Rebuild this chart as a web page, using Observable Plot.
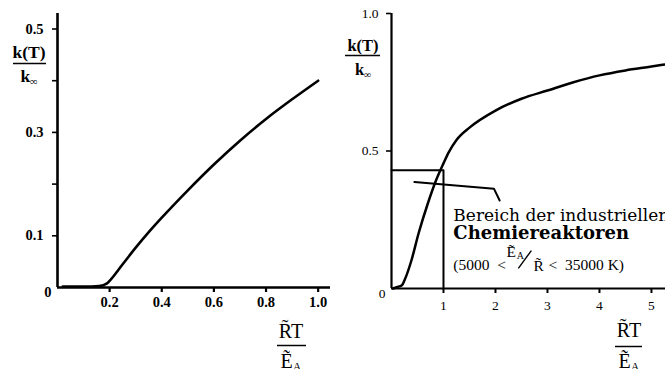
<!DOCTYPE html>
<html><head><meta charset="utf-8">
<script src="https://cdn.jsdelivr.net/npm/d3@7"></script>
<script src="https://cdn.jsdelivr.net/npm/@observablehq/plot@0.6"></script>
<style>
html,body{margin:0;padding:0;background:#fff;}
#wrap{position:relative;width:665px;height:369px;overflow:hidden;background:#fff;}
#left{position:absolute;left:0;top:0;}
#right{position:absolute;left:330px;top:0;}
svg{overflow:visible;}
</style></head><body><div id="wrap"><div id="left"></div><div id="right"></div></div>
<script>
// ---------- data ----------
// left panel: k(T)/k_inf vs RT/E_A  (0 .. 1)
const leftX = [0.02, 0.1, 0.16, 0.19, 0.2, 0.25, 0.3, 0.35, 0.4, 0.5, 0.6, 0.7, 0.8, 0.9, 1.0];
const leftY = [0.002, 0.002, 0.003, 0.008, 0.013, 0.045, 0.077, 0.107, 0.135, 0.188, 0.238, 0.284, 0.326, 0.364, 0.40];
const leftXTicks = [0.2, 0.4, 0.6, 0.8, 1.0];
const leftXTickLabels = ["0.2", "0.4", "0.6", "0.8", "1.0"];
const leftYTicks = [0.1, 0.2, 0.3, 0.4, 0.5];
const leftYTickLabels = ["0.1", "", "0.3", "", "0.5"];

// right panel: k(T)/k_inf vs RT/E_A  (0 .. 5)
const rightX = [0.03, 0.1, 0.2, 0.25, 0.38, 0.52, 0.7, 0.85, 1.0, 1.1, 1.25, 1.5, 2, 2.5, 3, 3.5, 4, 4.5, 5, 5.27];
const rightY = [0, 0.005, 0.012, 0.03, 0.1, 0.2, 0.31, 0.39, 0.455, 0.495, 0.54, 0.585, 0.647, 0.69, 0.72, 0.75, 0.775, 0.793, 0.807, 0.815];
const rightXTicks = [1, 2, 3, 4, 5];
const rightXTickLabels = ["1", "2", "3", "4", "5"];
const rightYTicks = [0.5, 1.0];
const rightYTickLabels = ["0.5", "1.0"];

// industrial reactor range box and pointer
const boxX = [0, 1, 1];
const boxY = [0.43, 0.43, 0];
const pointerX = [0.44, 1.97, 2.08];
const pointerY = [0.387, 0.363, 0.32];
const noteLines = ["Bereich der industriellen", "Chemiereaktoren"];
const noteLineY = [0.247, 0.18];
const noteX = 1.19;
const rangeLow = "(5000  <";
const rangeHigh = "<  35000 K)";

// ---------- helpers ----------
const serif = "'Liberation Serif', 'Times New Roman', serif";
const wide = "'DejaVu Serif', serif";
const pts = (xs, ys) => xs.map((x, i) => ({x, y: ys[i]}));
const lmap = (t, l) => new Map(t.map((d, i) => [d, l[i]]));

// ---------- left plot ----------
const lxm = lmap(leftXTicks, leftXTickLabels);
const lym = lmap(leftYTicks, leftYTickLabels);
const left = Plot.plot({
  width: 340, height: 369,
  marginLeft: 57, marginRight: 8, marginTop: 13, marginBottom: 82,
  x: {domain: [0, 1.055]},
  y: {domain: [0, 0.53]},
  style: {fontFamily: serif, fontSize: "14.5px", fontWeight: "bold", color: "black", background: "white"},
  marks: [
    Plot.axisX(leftXTicks, {tickSize: 5, tickPadding: 4, strokeWidth: 2.2, tickFormat: d => lxm.get(d), label: null}),
    Plot.axisY(leftYTicks, {tickSize: 5, tickPadding: 9, strokeWidth: 1.6, tickFormat: d => lym.get(d), label: null}),
    Plot.text([{x: 0, y: 0, t: "0"}], {x: "x", y: "y", text: "t", dx: -6, dy: 5, textAnchor: "end"}),
    Plot.ruleX([0], {y1: 0, y2: 0.53, strokeWidth: 2.6}),
    Plot.ruleY([0], {x1: 0, x2: 1.055, strokeWidth: 2.6}),
    Plot.line(pts(leftX, leftY), {x: "x", y: "y", strokeWidth: 2.6, curve: "monotone-x"})
  ]
});
document.getElementById("left").appendChild(left);

// ---------- right plot ----------
const rxm = lmap(rightXTicks, rightXTickLabels);
const rym = lmap(rightYTicks, rightYTickLabels);
const right = Plot.plot({
  width: 335, height: 369,
  marginLeft: 61, marginRight: 0, marginTop: 13, marginBottom: 81,
  x: {domain: [0, 5.27]},
  y: {domain: [0, 1]},
  style: {fontFamily: serif, fontSize: "13.5px", color: "black", background: "white"},
  marks: [
    Plot.axisX(rightXTicks, {tickSize: 5, tickPadding: 7, strokeWidth: 2, tickFormat: d => rxm.get(d), label: null}),
    Plot.axisY(rightYTicks, {tickSize: 5, tickPadding: 8, strokeWidth: 1.6, tickFormat: d => rym.get(d), label: null}),
    Plot.text([{x: 0, y: 0, t: "0"}], {x: "x", y: "y", text: "t", dx: -6, dy: 5, textAnchor: "end"}),
    Plot.ruleX([0], {y1: 0, y2: 1, strokeWidth: 2.2}),
    Plot.ruleY([0], {x1: 0, x2: 5.27, strokeWidth: 2.2}),
    Plot.line(pts(boxX, boxY), {x: "x", y: "y", strokeWidth: 2}),
    Plot.line(pts(pointerX, pointerY), {x: "x", y: "y", strokeWidth: 2}),
    Plot.line(pts(rightX, rightY), {x: "x", y: "y", strokeWidth: 2.5, curve: "monotone-x"}),
    Plot.text([noteLines[0]], {x: noteX, y: noteLineY[0], textAnchor: "start", lineAnchor: "bottom", fontFamily: wide, fontSize: 17}),
    Plot.text([noteLines[1]], {x: noteX, y: noteLineY[1], textAnchor: "start", lineAnchor: "bottom", fontFamily: wide, fontSize: 18, fontWeight: "bold"}),
    // range formula
    Plot.text([rangeLow], {x: noteX, y: 0.069, textAnchor: "start", lineAnchor: "bottom", fontSize: 15.5}),
    Plot.text(["\u1EBC"], {x: 2.21, y: 0.113, textAnchor: "start", lineAnchor: "bottom", fontSize: 15.5}),
    Plot.text(["A"], {x: 2.41, y: 0.108, textAnchor: "start", lineAnchor: "bottom", fontSize: 10}),
    Plot.link([{x1: 2.44, y1: 0.073, x2: 2.69, y2: 0.138}], {x1: "x1", y1: "y1", x2: "x2", y2: "y2", strokeWidth: 1.4}),
    Plot.text(["R\u0303"], {x: 2.73, y: 0.062, textAnchor: "start", lineAnchor: "bottom", fontSize: 15.5}),
    Plot.text([rangeHigh], {x: 3.02, y: 0.069, textAnchor: "start", lineAnchor: "bottom", fontSize: 15.5})
  ]
});
document.getElementById("right").appendChild(right);

// ---------- fraction axis labels ----------
function frac(svg, o) {
  const g = d3.select(svg).append("g").attr("fill", "black").attr("font-family", serif);
  g.append("text").attr("x", o.cx).attr("y", o.topBase).attr("text-anchor", "middle")
    .attr("font-size", o.size).attr("font-weight", o.weight).text(o.top);
  g.append("line").attr("x1", o.lx1).attr("x2", o.lx2).attr("y1", o.ly).attr("y2", o.ly)
    .attr("stroke", "black").attr("stroke-width", 1.5);
  const b = g.append("text").attr("x", o.cx).attr("y", o.botBase).attr("text-anchor", "middle")
    .attr("font-size", o.size).attr("font-weight", o.weight);
  b.append("tspan").text(o.bot);
  b.append("tspan").attr("font-size", o.size * 0.6).attr("dy", 3).text(o.sub);
}
frac(left, {cx: 29, topBase: 58, lx1: 13, lx2: 46, ly: 63.5, botBase: 82, size: 17.5, weight: "bold", top: "k(T)", bot: "k", sub: "\u221E"});
frac(left, {cx: 291, topBase: 338, lx1: 277, lx2: 306, ly: 345.5, botBase: 368, size: 20, weight: "normal", top: "R\u0303T", bot: "\u1EBC", sub: "A"});
frac(right, {cx: 33, topBase: 51, lx1: 15, lx2: 50, ly: 55.5, botBase: 75, size: 16.5, weight: "bold", top: "k(T)", bot: "k", sub: "\u221E"});
frac(right, {cx: 299, topBase: 337, lx1: 285, lx2: 312, ly: 346.5, botBase: 368, size: 20, weight: "normal", top: "R\u0303T", bot: "\u1EBC", sub: "A"});
</script></body></html>
